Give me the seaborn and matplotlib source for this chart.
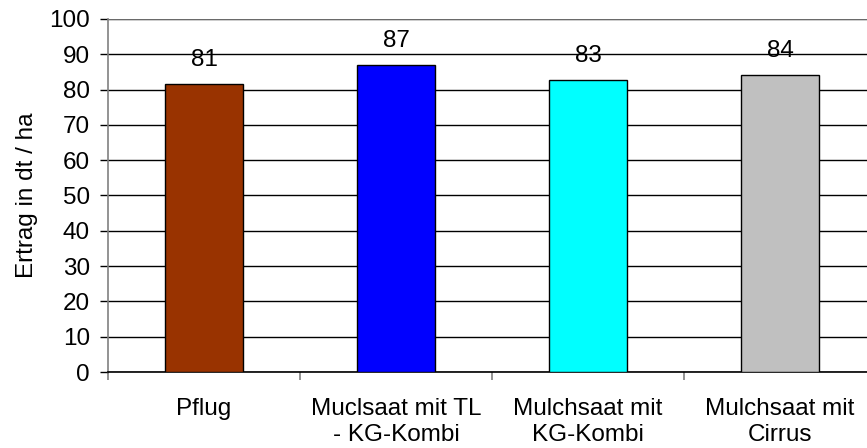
import matplotlib
matplotlib.use("Agg")
import matplotlib.pyplot as plt
import seaborn as sns
import pandas as pd

categories = ["Pflug", "Muclsaat mit TL\n- KG-Kombi", "Mulchsaat mit\nKG-Kombi", "Mulchsaat mit\nCirrus"]
values = [81.5, 87.0, 82.6, 84.2]
labels = ["81", "87", "83", "84"]
colors = ["#993300", "#0000FF", "#00FFFF", "#C0C0C0"]
yticks = list(range(0, 101, 10))

sns.set_theme(style="white")
plt.rcParams['font.family'] = ['Liberation Sans', 'DejaVu Sans']
plt.rcParams['text.color'] = 'black'
plt.rcParams['xtick.color'] = 'black'
plt.rcParams['ytick.color'] = 'black'
plt.rcParams['axes.labelcolor'] = 'black'

FS = 17.5
df = pd.DataFrame({"cat": categories, "val": values})
fig = plt.figure(figsize=(8.67, 4.48), dpi=100)
ax = fig.add_axes([108/867, (448-372)/448, 768/867, (372-19)/448])
sns.barplot(data=df, x="cat", y="val", hue="cat", palette=colors, legend=False,
            saturation=1, width=0.41, edgecolor="black", linewidth=1.0, ax=ax, zorder=3)
ax.set_ylim(0, 100)
ax.set_xlim(-0.5, 3.5)
ax.set_yticks(yticks)
ax.yaxis.grid(True, color="black", linewidth=1.0, zorder=0)
ax.set_axisbelow(True)
for s in ["top", "right"]:
    ax.spines[s].set_visible(False)
ax.spines["left"].set_color("#808080")
ax.spines["left"].set_linewidth(1.2)
ax.spines["bottom"].set_color("black")
ax.spines["bottom"].set_linewidth(1.2)
ax.axhline(100, color="#808080", linewidth=1.2, zorder=1)
ax.tick_params(axis="y", left=True, length=6, width=1, color="black", labelsize=FS, pad=7)
ax.set_xticks([0, 1, 2, 3])
ax.set_xticklabels(categories, fontsize=FS, linespacing=1.2)
ax.tick_params(axis="x", bottom=False, pad=13)
ax.set_xticks([-0.5, 0.5, 1.5, 2.5, 3.5], minor=True)
ax.tick_params(axis="x", which="minor", bottom=True, length=6, width=1.2, color="#808080")
ax.set_xlabel("")
ax.set_ylabel("Ertrag in dt / ha", fontsize=FS, labelpad=8)
for i, (v, t) in enumerate(zip(values, labels)):
    ax.annotate(t, xy=(i, v), xytext=(0, 24), textcoords="offset pixels",
                ha="center", va="center", fontsize=FS)
fig.savefig("out.png", dpi=100)
